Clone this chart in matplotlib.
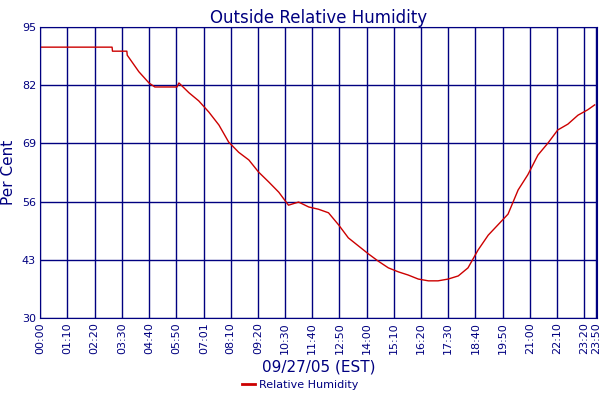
import matplotlib
matplotlib.use("Agg")
import matplotlib.pyplot as plt
from matplotlib.lines import Line2D

minutes = [0, 185, 186, 223, 224, 254, 280, 295, 352, 357, 383, 408, 434, 460, 485, 511, 537, 562, 588, 614, 639,
           665, 691, 716, 742, 768, 793, 819, 845, 870, 896, 922, 947, 973, 999, 1024, 1050, 1076, 1101,
           1127, 1153, 1178, 1204, 1230, 1255, 1281, 1307, 1332, 1358, 1384, 1409, 1427]
humidity = [90.5, 90.5, 89.6, 89.6, 88.7, 85.0, 82.5, 81.6, 81.6, 82.5, 80.3, 78.5, 76.0, 73.1, 69.3, 67.0, 65.3, 62.6,
            60.4, 58.1, 55.2, 55.9, 54.8, 54.3, 53.5, 50.8, 47.9, 46.1, 44.3, 42.7, 41.2, 40.3, 39.6, 38.7,
            38.3, 38.3, 38.7, 39.4, 41.2, 45.2, 48.5, 50.8, 53.2, 58.6, 62.0, 66.4, 69.1, 72.0, 73.3, 75.3,
            76.5, 77.6]
tick_labels = ["00:00", "01:10", "02:20", "03:30", "04:40", "05:50", "07:01", "08:10", "09:20", "10:30",
               "11:40", "12:50", "14:00", "15:10", "16:20", "17:30", "18:40", "19:50", "21:00", "22:10",
               "23:20", "23:50"]
y_ticks = [30, 43, 56, 69, 82, 95]

def to_min(s):
    h, m = s.split(":")
    return int(h) * 60 + int(m)

navy = "#000080"
fig = plt.figure(figsize=(6, 4), dpi=100)
ax = fig.add_axes([0.067, 0.205, 0.928, 0.7275])
ax.plot(minutes, humidity, color="#cc0000", lw=1)
ax.set_xlim(0, 1433)
ax.set_ylim(30, 95)
ax.set_yticks(y_ticks)
ax.set_xticks([to_min(t) for t in tick_labels])
ax.set_xticklabels(tick_labels, rotation=90)
ax.tick_params(colors=navy, labelcolor=navy, labelsize=8, length=0, pad=3)
ax.grid(True, color=navy, lw=1)
for s in ax.spines.values():
    s.set_color(navy)
ax.set_title("Outside Relative Humidity", color=navy, fontsize=12, pad=3)
ax.set_ylabel("Per Cent", color=navy, fontsize=11)
ax.set_xlabel("09/27/05 (EST)", color=navy, fontsize=11, labelpad=4)
fig.legend(handles=[Line2D([], [], color="#cc0000", lw=2)], labels=["Relative Humidity"],
           loc="lower center", bbox_to_anchor=(0.5, 0.0), frameon=False, fontsize=8,
           labelcolor=navy, handlelength=1.2, handletextpad=0.3)
fig.savefig("out.png", dpi=100)
